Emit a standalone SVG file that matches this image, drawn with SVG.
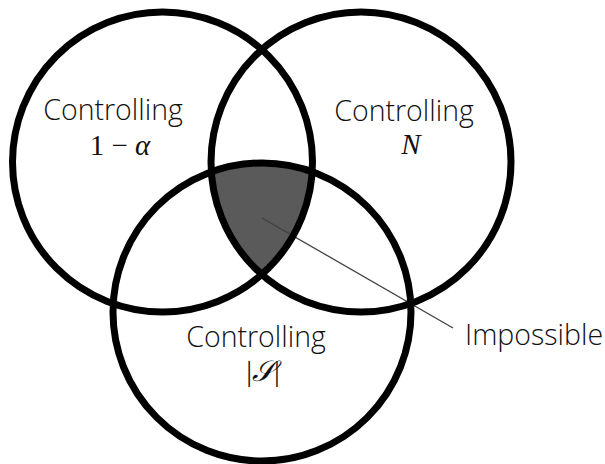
<svg xmlns="http://www.w3.org/2000/svg" width="605" height="464" viewBox="0 0 605 464">
  <style>
    .ring { fill: none; stroke: #000; stroke-width: 7; }
    .lbl { font-family: "Open Sans", "Noto Sans", "Liberation Sans", sans-serif; font-weight: 300; font-size: 28.5px; fill: #111; text-anchor: middle; }
    .math { font-family: "Liberation Serif", "DejaVu Serif", serif; font-size: 29px; fill: #111; text-anchor: middle; }
    .lead { stroke: #404040; stroke-width: 1.3; fill: none; }
  </style>
  <defs>
    <clipPath id="clipL"><circle cx="162.5" cy="162" r="150"/></clipPath>
    <clipPath id="clipR"><circle cx="361" cy="162" r="150"/></clipPath>
  </defs>
  <rect width="605" height="464" fill="#fff"/>
  <g id="intersection">
    <g clip-path="url(#clipL)">
      <g clip-path="url(#clipR)">
        <circle cx="262" cy="312" r="149" fill="#5a5a5a"/>
      </g>
    </g>
  </g>
  <g id="connectors">
    <line class="lead" x1="262" y1="218" x2="453" y2="328"/>
  </g>
  <g id="set-alpha">
    <circle class="ring" cx="162.5" cy="162" r="150"/>
    <text class="lbl" x="113" y="120">Controlling</text>
    <text class="math" x="120" y="155">1 − <tspan font-style="italic">α</tspan></text>
  </g>
  <g id="set-N">
    <circle class="ring" cx="361" cy="162" r="150"/>
    <text class="lbl" x="404" y="120.5">Controlling</text>
    <text class="math" x="411" y="154" font-style="italic">N</text>
  </g>
  <g id="set-S">
    <circle class="ring" cx="262" cy="312" r="149"/>
    <text class="lbl" x="256" y="347">Controlling</text>
    <text class="math" x="263" y="381">|<tspan font-style="italic">𝒮</tspan>|</text>
  </g>
  <g id="impossible">
    <text class="lbl" x="534" y="345">Impossible</text>
  </g>
</svg>
